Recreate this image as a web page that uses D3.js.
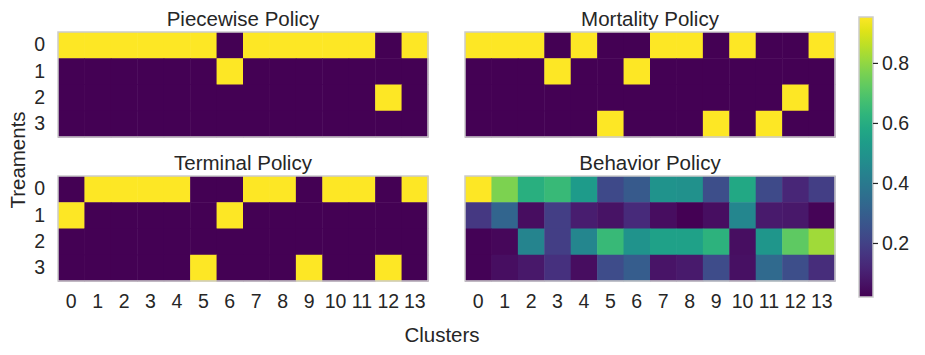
<!DOCTYPE html>
<html>
<head>
<meta charset="utf-8">
<script src="https://cdn.jsdelivr.net/npm/d3@7"></script>
<style>
    body { margin: 0; background: white; }
    text { font-family: "Liberation Sans", Arial, sans-serif; fill: #262626; }
</style>
</head>
<body>
<script>
const width = 925;
const height = 355;

const clusters = d3.range(14);
const treatments = [0, 1, 2, 3];

// binary policies: one row per treatment
const piecewise = [
    [1, 1, 1, 1, 1, 1, 0, 1, 1, 1, 1, 1, 0, 1],
    [0, 0, 0, 0, 0, 0, 1, 0, 0, 0, 0, 0, 0, 0],
    [0, 0, 0, 0, 0, 0, 0, 0, 0, 0, 0, 0, 1, 0],
    [0, 0, 0, 0, 0, 0, 0, 0, 0, 0, 0, 0, 0, 0]
];
const mortality = [
    [1, 1, 1, 0, 1, 0, 0, 1, 1, 0, 1, 0, 0, 1],
    [0, 0, 0, 1, 0, 0, 1, 0, 0, 0, 0, 0, 0, 0],
    [0, 0, 0, 0, 0, 0, 0, 0, 0, 0, 0, 0, 1, 0],
    [0, 0, 0, 0, 0, 1, 0, 0, 0, 1, 0, 1, 0, 0]
];
const terminal = [
    [0, 1, 1, 1, 1, 0, 0, 1, 1, 0, 1, 1, 0, 1],
    [1, 0, 0, 0, 0, 0, 1, 0, 0, 0, 0, 0, 0, 0],
    [0, 0, 0, 0, 0, 0, 0, 0, 0, 0, 0, 0, 0, 0],
    [0, 0, 0, 0, 0, 1, 0, 0, 0, 1, 0, 0, 1, 0]
];
const behavior = [
    [0.953, 0.77, 0.61, 0.65, 0.53, 0.225, 0.28, 0.50, 0.49, 0.24, 0.58, 0.23, 0.12, 0.19],
    [0.17, 0.32, 0.05, 0.19, 0.095, 0.065, 0.13, 0.05, 0.02, 0.055, 0.45, 0.085, 0.08, 0.03],
    [0.025, 0.035, 0.44, 0.19, 0.45, 0.65, 0.50, 0.55, 0.55, 0.62, 0.055, 0.51, 0.72, 0.82],
    [0.025, 0.055, 0.08, 0.15, 0.05, 0.235, 0.29, 0.07, 0.085, 0.235, 0.06, 0.34, 0.24, 0.14]
];

const colorTicks = [0.2, 0.4, 0.6, 0.8];
const vmin = 0.02, vmax = 0.953;

const color = d3.scaleSequential(d3.interpolateViridis)
    .domain([vmin, vmax])
    .clamp(true);

const svg = d3
    .select("body")
    .append("svg")
    .attr("width", width)
    .attr("height", height);

const panels = [
    { title: "Piecewise Policy", data: piecewise, x0: 58, y0: 32, yTicks: true, xTicks: false },
    { title: "Mortality Policy", data: mortality, x0: 465, y0: 32, yTicks: false, xTicks: false },
    { title: "Terminal Policy", data: terminal, x0: 58, y0: 176, yTicks: true, xTicks: true },
    { title: "Behavior Policy", data: behavior, x0: 465, y0: 176, yTicks: false, xTicks: true }
];
const pw = 370, ph = 105;

for (let p of panels) {
    const g = svg.append("g").attr("transform", `translate(${p.x0},${p.y0})`);

    const x = d3.scaleBand().domain(clusters).range([0, pw]);
    const y = d3.scaleBand().domain(treatments).range([0, ph]);

    const cells = [];
    p.data.forEach((row, i) => row.forEach((v, j) => cells.push({ r: i, c: j, v: v })));

    g.selectAll("rect.cell")
        .data(cells)
        .join("rect")
        .attr("class", "cell")
        .attr("x", d => x(d.c))
        .attr("y", d => y(d.r))
        .attr("width", x.bandwidth() + 0.5)
        .attr("height", y.bandwidth() + 0.5)
        .attr("fill", d => color(d.v));

    g.append("rect")
        .attr("width", pw)
        .attr("height", ph)
        .attr("fill", "none")
        .attr("stroke", "#cccccc")
        .attr("stroke-width", 1.5);

    g.append("text")
        .attr("x", pw / 2)
        .attr("y", -6)
        .attr("text-anchor", "middle")
        .attr("font-size", 20.5)
        .text(p.title);

    if (p.yTicks) {
        const ya = g.append("g")
            .call(d3.axisLeft(y).tickSize(0).tickPadding(13));
        ya.select(".domain").remove();
        ya.selectAll("text").attr("font-size", 19.5).attr("font-family", null).attr("fill", null);
    }
    if (p.xTicks) {
        const xa = g.append("g")
            .attr("transform", `translate(0,${ph})`)
            .call(d3.axisBottom(x).tickSize(0).tickPadding(13));
        xa.select(".domain").remove();
        xa.selectAll("text").attr("font-size", 19.5).attr("font-family", null).attr("fill", null);
    }
}

// axis labels
svg.append("text")
    .attr("x", 442)
    .attr("y", 342)
    .attr("text-anchor", "middle")
    .attr("font-size", 20.5)
    .text("Clusters");

svg.append("text")
    .attr("transform", "translate(25,160) rotate(-90)")
    .attr("text-anchor", "middle")
    .attr("font-size", 20.5)
    .text("Treaments");

// colorbar
const cbX = 859, cbW = 14, cbTop = 17, cbBottom = 297;
const cy = d3.scaleLinear().domain([vmin, vmax]).range([cbBottom, cbTop]);

const grad = svg.append("defs").append("linearGradient")
    .attr("id", "cbgrad")
    .attr("x1", 0).attr("y1", 1).attr("x2", 0).attr("y2", 0);
grad.selectAll("stop")
    .data(d3.range(0, 1.0001, 0.05))
    .join("stop")
    .attr("offset", d => d)
    .attr("stop-color", d => d3.interpolateViridis(d));

svg.append("rect")
    .attr("x", cbX)
    .attr("y", cbTop)
    .attr("width", cbW)
    .attr("height", cbBottom - cbTop)
    .attr("fill", "url(#cbgrad)")
    .attr("stroke", "#cccccc")
    .attr("stroke-width", 1.5);

const ca = svg.append("g")
    .attr("transform", `translate(${cbX + cbW},0)`)
    .call(d3.axisRight(cy).tickValues(colorTicks).tickFormat(d3.format(".1f")).tickSize(5).tickPadding(4));
ca.select(".domain").remove();
ca.selectAll("line").attr("stroke", "#262626").attr("stroke-width", 1.2);
ca.selectAll("text").attr("font-size", 19.5).attr("font-family", null).attr("fill", null);
</script>
</body>
</html>
